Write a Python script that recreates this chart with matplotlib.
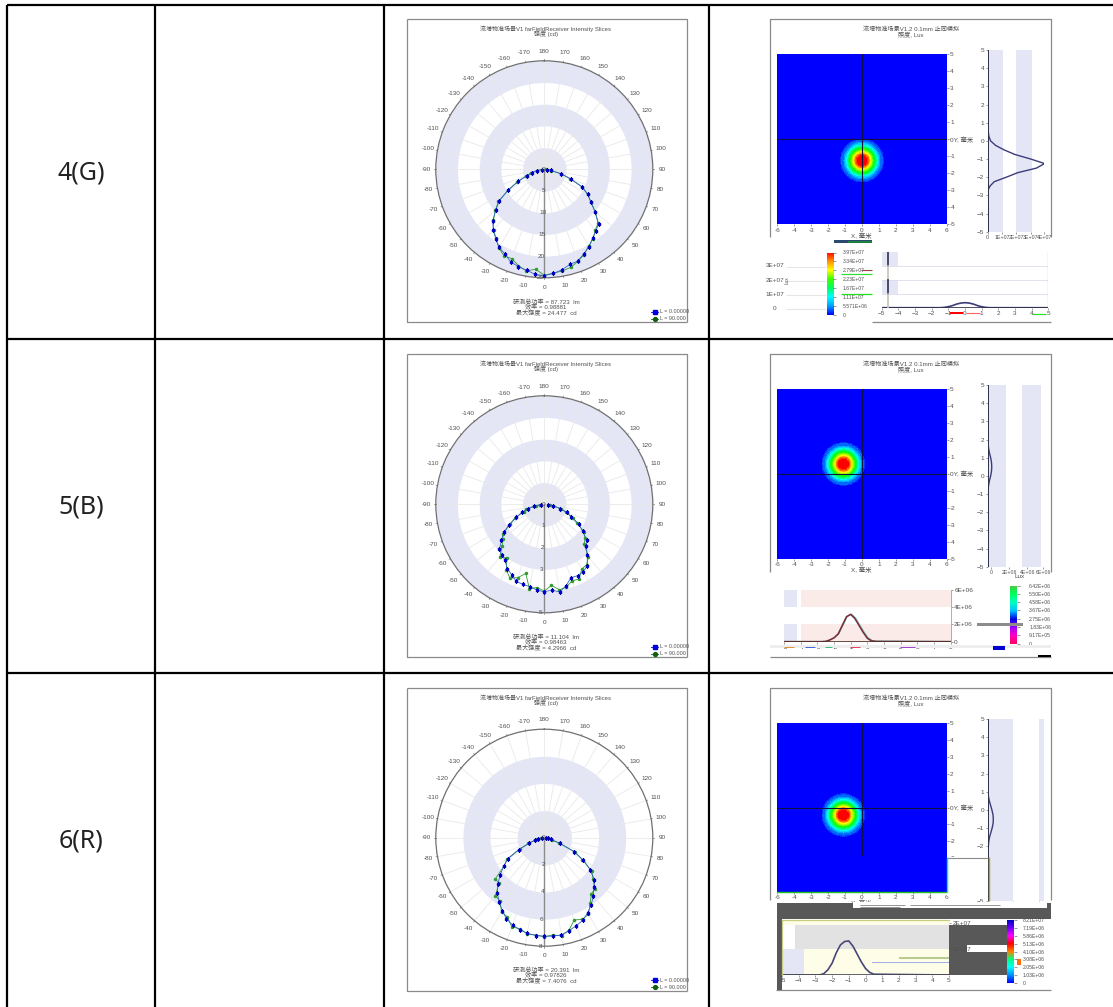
import numpy as np
import matplotlib
matplotlib.use("Agg")
import matplotlib.pyplot as plt
from matplotlib.colors import LinearSegmentedColormap, BoundaryNorm
from matplotlib.patches import Rectangle

plt.rcParams['font.family'] = ['Liberation Sans', 'Noto Sans CJK SC', 'DejaVu Sans']
W, H = 1113, 1007

row_labels = ["4(G)", "5(B)", "6(R)"]

angles = list(range(-85, 90, 5))
blue_r1 = [.6,1.7,2.9,4.2,6.6,9.7,12.7,14.6,16.8,18.3,19.5,20.8,21.5,22.7,23.2,23.6,24.3,24.5,24.1,23.5,22.7,22.5,21.5,20.6,19.4,18.5,17.7,15.2,13.2,11.5,9.5,6.5,4,1.5,.6]
green_r1 = [.6,1.8,3.1,4.4,6.9,9.6,12.9,14.7,16.6,18.2,19.4,20.9,22.0,21.9,23.0,23.8,23.1,24.4,24.0,23.8,23.4,22.6,21.7,20.4,19.6,18.3,17.5,15.4,13.0,11.6,9.7,6.3,4.1,1.6,.5]
blue_r2 = [.15,.46,.8,1.1,1.42,1.88,2.25,2.58,2.92,3.05,3.15,3.42,3.57,3.78,3.82,3.85,3.97,4.03,3.97,4.1,3.88,3.6,3.63,3.58,3.46,3.08,2.74,2.54,2.15,1.85,1.38,1.1,.77,.43,.15]
green_r2 = [.2,.4,.85,1.0,1.5,1.8,2.35,2.5,2.75,3.2,3.0,3.5,3.75,3.6,3.3,3.95,3.85,4.0,3.75,4.0,3.95,3.75,3.8,3.45,3.4,3.15,2.6,2.45,2.25,1.75,1.45,1.05,.8,.4,.25]
blue_r3 = [.2,.44,.74,1.18,2.09,3.08,3.65,4.24,4.85,5.37,5.81,6.2,6.6,6.85,7.02,7.17,7.24,7.27,7.29,7.27,7.09,6.9,6.72,6.4,6.03,5.62,5.17,4.8,4.14,3.33,2.41,1.23,.49,.3,.15]
green_r3 = [.25,.55,.7,1.25,2.0,3.2,3.6,4.7,4.75,5.6,5.7,6.3,6.45,7.0,6.95,7.2,7.2,7.3,7.2,7.35,7.05,6.45,6.65,6.5,5.9,5.4,5.3,4.7,4.25,3.25,2.5,1.15,.6,.25,.2]
ring_edges1 = [0,5,10,15,20,25]
ring_edges2 = [0,1,2,3,4,5]
ring_edges3 = [0,2,4,6,8]
r_labels1 = [5,10,15,20,25]
r_labels2 = [1,2,3,5]
r_labels3 = [2,4,6,8]
theta_ticks = list(range(-170, 190, 10))
polar_notes1 = ["研测总功率 = 87.723  lm", "效率 = 0.98881", "最大强度 = 24.477  cd"]
polar_notes2 = ["研测总功率 = 11.104  lm", "效率 = 0.98463", "最大强度 = 4.2966  cd"]
polar_notes3 = ["研测总功率 = 20.391  lm", "效率 = 0.97826", "最大强度 = 7.4076  cd"]

peak_xy1 = (0.0, -1.25)
peak_xy2 = (-1.1, 0.6)
peak_xy3 = (-1.1, -0.45)
heat_r = [0,.3,.4,.5,.72,.95,1.1,1.28,1.31,20]
heat_v = [1,.97,.87,.75,.5,.25,.15,.08,0,0]

side_y1 = [-5,-2.75,-2.5,-2.25,-2,-1.75,-1.5,-1.25,-1,-.75,-.5,-.25,0,.25,.5,.75,1,5]
side_v1 = [0,0,.15,.45,1.3,2.1,3.4,3.97,3.0,1.9,1.15,.55,.2,.08,.04,.02,.01,0]
side_y2 = [-5,-1.25,-1,-.75,-.5,-.25,0,.25,.5,.75,1,1.25,1.5,1.75,2,2.25,2.5,5]
side_v2 = [0,0,.02,.05,.1,.2,.33,.42,.45,.42,.33,.2,.1,.05,.03,.02,0,0]
side_y3 = [-2.75,-2.5,-2.25,-2,-1.75,-1.5,-1.25,-1,-.75,-.5,-.25,0,.25,.5,.75,1,1.25,5]
side_v3 = [0,.03,.08,.13,.2,.35,.6,.85,1.03,1.07,1.0,.8,.55,.3,.13,.05,.02,0]

bot_x1 = [-5,-1.5,-1.25,-1,-.75,-.5,-.25,0,.25,.5,.75,1,1.25,1.5,5]
bot_v1 = [0,0,.02,.07,.15,.26,.33,.36,.33,.26,.15,.07,.02,0,0]
bot_x2 = [-5,-2.75,-2.5,-2.25,-2,-1.75,-1.5,-1.25,-1,-.75,-.5,-.25,0,.25,.5,5]
bot_v2 = [0,0,.03,.2,.45,.9,1.9,2.9,3.17,2.7,1.9,1.1,.4,.1,.03,0]
bot_x3 = [-5,-2.75,-2.5,-2.25,-2,-1.75,-1.5,-1.25,-1,-.75,-.5,-.25,0,.25,.5,5]
bot_v3 = [0,0,.05,.2,.45,.85,1.15,1.28,1.3,1.1,.8,.5,.25,.1,.03,0]

cbar_colors1 = ["#0000ff","#00a0ff","#00ffff","#00ff60","#40ff00","#ffff00","#ff9000","#ff0000"]
cbar_colors2 = ["#ff0060","#ff00c0","#a000ff","#0000e0","#00c0ff","#00ffc0","#00ff60","#40d040"]
cbar_colors3 = ["#0000ff","#0090ff","#00ffff","#00ff80","#ff8000","#ff0000","#ff00ff","#7000ff","#0000c0"]
cbar_labels1 = ["0","5.571E+06","1.11E+07","1.67E+07","2.23E+07","2.79E+07","3.34E+07","3.97E+07"]
cbar_labels2 = ["0","9.17E+05","1.83E+06","2.75E+06","3.67E+06","4.58E+06","5.50E+06","6.42E+06"]
cbar_labels3 = ["0","1.03E+06","2.05E+06","3.08E+06","4.10E+06","5.13E+06","5.86E+06","7.19E+06","8.21E+07"]

BAND = "#e4e6f6"
TXT = "#505050"
FS = 4.6


def axpx(x0, y0, x1, y1, **kw):
    return fig.add_axes([x0/W, 1-y1/H, (x1-x0)/W, (y1-y0)/H], **kw)


fig = plt.figure(figsize=(W/100, H/100), dpi=100, facecolor="white")
base = axpx(0, 0, W, H)
base.set_xlim(0, W); base.set_ylim(H, 0); base.axis("off"); base.set_zorder(0)
over = axpx(0, 0, W, H)
over.set_xlim(0, W); over.set_ylim(H, 0); over.axis("off"); over.set_zorder(20)
over.patch.set_alpha(0)


def rect(a, x0, y0, x1, y1, c, z=1):
    a.add_patch(Rectangle((x0, y0), x1-x0, y1-y0, fc=c, ec="none", zorder=z))


def line(a, xs, ys, c="black", lw=1.0, z=2):
    a.plot(xs, ys, color=c, lw=lw, zorder=z, solid_capstyle="butt")


# table grid
for y in (5, 339, 673):
    line(base, [7, W], [y, y], lw=1.6)
for x in (7, 155, 384, 709):
    line(base, [x, x], [5, H], lw=1.6)
for lab, y in zip(row_labels, (173, 507, 841)):
    base.text(81, y, lab, fontsize=18, ha="center", va="center", color="#222222", family="Noto Sans")


def polar(top, bottom, cy, edges, rlabs, blue, green, notes):
    for xs, ys in (([406.7, 687, 687], [top, top, bottom]), ([406.7, 406.7, 687], [top, bottom, bottom])):
        line(base, xs, ys, c="#8a8a8a", lw=0.9)
    base.text(546, top+9, "流增物准场景V1 farFieldReceiver Intensity Slices", fontsize=4.3, color=TXT, ha="center", va="center")
    base.text(546, top+15, "强度 (cd)", fontsize=4.3, color=TXT, ha="center", va="center")
    R = 108.5
    ax = axpx(544.3-R, cy-R, 544.3+R, cy+R, projection="polar")
    ax.set_zorder(2)
    ax.set_theta_zero_location("S")
    ax.set_theta_direction(1)
    ax.set_thetamin(-180)
    ax.set_thetamax(180)
    rmax = edges[-1]
    ax.set_rlim(0, rmax)
    th = np.linspace(-np.pi, np.pi, 361)
    for lo, hi in zip(edges[0::2], edges[1::2]):
        ax.fill_between(th, lo, hi, color=BAND, lw=0, zorder=0)
    ax.set_yticks([])
    ax.set_thetagrids(theta_ticks, labels=[str(t) for t in theta_ticks], fontsize=FS, color=TXT)
    ax.tick_params(axis="x", pad=-3.5)
    ax.grid(True, color="#e9e9e9", lw=0.6)
    ax.spines["polar"].set_color("#707070")
    ax.spines["polar"].set_linewidth(0.9)
    for s in ("start", "end", "inner"):
        ax.spines[s].set_visible(False)
    for t in theta_ticks:
        ax.plot([np.deg2rad(t)]*2, [rmax, rmax*1.012], color="#707070", lw=0.5, clip_on=False, zorder=3)
    ax.plot([0, 0], [0, rmax], color="#8c8c8c", lw=1.0, zorder=3)
    tha = np.deg2rad(angles)
    ax.plot(tha, green, color="#2f9a30", lw=0.6, marker="o", ms=1.5, zorder=4)
    ax.plot(tha, blue, color="#2f66c8", lw=0.6, marker="s", ms=1.5, mfc="#0000c0", mec="#0000c0", zorder=5)
    ax.set_thetamin(-180)
    ax.set_thetamax(180)
    ax.set_rlim(0, rmax)
    for r in [0]+rlabs:
        ax.text(np.deg2rad(-2.2) if r else np.deg2rad(-90), r if r else 0.16*rmax/5*0.25, str(r), fontsize=FS, color=TXT, ha="center", va="center", zorder=6)
    for i, s in enumerate(notes):
        base.text(546, cy+132.5+i*5.2, s, fontsize=4.4, color=TXT, ha="center", va="center")
    for yy, c, m, s in ((bottom-10.5, "#0000e0", "s", "L = 0.00000"), (bottom-3.5, "#106010", "o", "L = 90.000")):
        base.plot([651, 658], [yy, yy], color=c, lw=0.6)
        base.plot([654.5], [yy], marker=m, ms=2.8, color=c)
        base.text(660, yy, s, fontsize=3.9, color=TXT, va="center")


polar(19.3, 322.3, 169.3, ring_edges1, r_labels1, blue_r1, green_r1, polar_notes1)
polar(354.3, 657, 504.3, ring_edges2, r_labels2, blue_r2, green_r2, polar_notes2)
polar(688.3, 990.7, 837.7, ring_edges3, r_labels3, blue_r3, green_r3, polar_notes3)

heat_cmap = LinearSegmentedColormap.from_list("h", ["#0000ff", "#00ffff", "#00ff00", "#ffff00", "#ff0000"])
grid = np.linspace(-5, 5, 401)
GX, GY = np.meshgrid(grid, grid)


def tick_style(ax):
    ax.tick_params(labelsize=FS, colors=TXT, length=1.5, width=0.4, pad=1)
    for s in ax.spines.values():
        s.set_visible(False)


def heat(top_px, bottom_px, peak, vline_end=-5):
    base.text(911, top_px-34.5+9, "流增物准场景V1.2 0.1mm 止同模拟", fontsize=4.4, color=TXT, ha="center", va="center")
    base.text(911, top_px-34.5+15, "照度, Lux", fontsize=4.4, color=TXT, ha="center", va="center")
    ax = axpx(777.3, top_px, 946.7, bottom_px)
    ax.set_zorder(2)
    field = np.interp(np.hypot(GX-peak[0], GY-peak[1]), heat_r, heat_v)
    ax.pcolormesh(grid, grid, field, cmap=heat_cmap, norm=BoundaryNorm(np.linspace(0, 1, 21), 256), rasterized=True)
    ax.axhline(0, color="#101040", lw=0.8)
    ax.plot([0, 0], [vline_end, 5], color="#101040", lw=0.8)
    ax.set_xlim(-5, 5); ax.set_ylim(-5, 5)
    ax.yaxis.tick_right()
    ax.set_xticks(range(-5, 6), [str(t) for t in (-6,-4,-3,-2,-1,0,1,2,3,4,6)])
    ax.set_yticks(range(-5, 6), [str(t) if t else "" for t in range(-5, 6)])
    tick_style(ax)
    base.text(950.5, (top_px+bottom_px)/2, "0Y, 毫米", fontsize=4.6, color=TXT, ha="left", va="center")
    base.text(861, bottom_px+11, "X, 毫米", fontsize=4.6, color=TXT, ha="center", va="center")


def side(x0, x1, y0, y1, xs, ys, unit, bands, ticks, labels, xmax, ymin=-5):
    ax = axpx(x0, y0, x1, y1)
    ax.set_zorder(3)
    for lo, hi in bands:
        ax.axvspan(lo, hi, color=BAND, lw=0)
    ax.plot(np.array(xs)*unit, ys, color="#3c3c78", lw=1.0)
    ax.axvline(0, color="#30304a", lw=1.4)
    ax.set_xlim(0, xmax); ax.set_ylim(ymin, 5)
    ax.set_yticks(range(-5, 6))
    ax.set_xticks(ticks, labels)
    tick_style(ax)
    ax.tick_params(axis="x", labelsize=3.8)
    return ax


def bottom_slice(x0, x1, y0, y1, xs, vs, ymax, ticks, labels, lc):
    ax = axpx(x0, y0, x1, y1)
    ax.set_zorder(3)
    ax.plot(xs, vs, color=lc, lw=1.2)
    ax.set_xlim(-5, 5); ax.set_ylim(0, ymax)
    ax.yaxis.tick_right()
    ax.set_yticks(ticks, labels)
    ax.set_xticks(range(-5, 6))
    tick_style(ax)
    return ax


def cbar(x0, x1, y0, y1, colors, labels, pad):
    ax = axpx(x0, y0, x1, y1)
    ax.set_zorder(3)
    cm = LinearSegmentedColormap.from_list("c", colors)
    ax.imshow(np.linspace(1, 0, 256)[:, None], cmap=cm, aspect="auto", extent=(0, 1, 0, len(labels)-1))
    ax.yaxis.tick_right()
    ax.set_xticks([])
    ax.set_yticks(range(len(labels)), labels)
    tick_style(ax)
    ax.tick_params(labelsize=3.7, pad=pad, length=2.5)
    return ax


# ---- row 1 right
line(base, [770, 770, 1051, 1051], [237, 19.3, 19.3, 237], c="#8a8a8a", lw=0.9)
line(base, [872, 1051], [322.3, 322.3], c="#8a8a8a", lw=0.9)
heat(54.3, 224.3, peak_xy1)
side(987.7, 1044.3, 50, 231.7, side_v1, side_y1, 1e7, [(0, 1.07e7), (1.98e7, 3.07e7)],
     [0, 1e7, 2e7, 3e7, 3.95e7], ["0", "1E+07", "2E+07", "3E+07", "4E+07"], 3.95e7)
ax = bottom_slice(881.7, 1048.3, 251.7, 307.7, bot_x1, bot_v1, 4e7/1e7, [], [], "#3c3c78")
ax.axhspan(2.98, 4, xmin=0, xmax=.10, color=BAND, lw=0)
ax.axhspan(1.0, 2.0, xmin=0, xmax=.10, color=BAND, lw=0)
for yy in (1, 2, 3):
    ax.axhline(yy, color="#dcdcec", lw=0.6)
ax.axhline(0, color="#30304a", lw=1.2)
for lo, hi, c in ((2.98, 4, "#30304a"), (2.0, 2.98, "#c4c2b8"), (1.0, 2.0, "#30304a"), (0, 1.0, "#c4c2b8")):
    ax.plot([-4.62, -4.62], [lo, hi], color=c, lw=1.2)
ax.axvline(5, color="#b4b4b4", lw=0.9)
cbar(826.7, 833.3, 252.5, 315, cbar_colors1, cbar_labels1, 4.5)
for y, s in zip((265.7, 280, 294.3, 308.3), ("3E+07", "2E+07", "1E+07", "0")):
    over.text(775, y, s, fontsize=FS, color=TXT, ha="center", va="center")
    line(over, [786, 826], [y+1, y+1], c="#e6e6e6", lw=0.8)
over.text(787, 280, "Lux", fontsize=3.4, color=TXT, rotation=90, ha="center", va="center")
rect(over, 834, 240, 872, 243, "#2a4a70")
rect(over, 848, 241, 872, 243, "#208040")
line(over, [841, 872], [274, 274], c="#30e030", lw=0.9)
line(over, [841, 872], [294.3, 294.3], c="#20e020", lw=0.9)
line(over, [861, 872], [270, 270], c="#a04040", lw=0.8)
rect(over, 950, 311.5, 963, 314, "#ff0000")
line(over, [966, 980], [312.5, 312.5], c="#ff6060", lw=0.8)
line(over, [1032, 1046], [314, 314], c="#30e030", lw=0.9)

# ---- row 2 right
line(base, [770, 770, 1051, 1051], [572, 354.3, 354.3, 572], c="#8a8a8a", lw=0.9)
line(base, [770, 1051], [657, 657], c="#8a8a8a", lw=0.9)
heat(389.3, 559, peak_xy2)
side(987.7, 1044.3, 385, 566.7, side_v2, side_y2, 1e6, [(0, 2e6), (3.85e6, 5.9e6)],
     [.4e6, 2.4e6, 4.4e6, 6.2e6], ["0", "2E+06", "4E+06", "6E+06"], 6.3e6)
ax = bottom_slice(784, 950.7, 590, 641.7, bot_x2, bot_v2, 6.0, [0, 2, 4, 6], ["0", "2E+06", "4E+06", "6E+06"], "#7a3038")
for lo, hi in ((4, 6), (0, 2)):
    ax.axhspan(lo, hi, xmin=0, xmax=.08, color=BAND, lw=0)
    ax.axhspan(lo, hi, xmin=.10, xmax=1, color="#fbebe8", lw=0)
ax.axhline(0, color="#50302c", lw=1.2)
ax.plot(np.array(bot_x2)+.06, np.array(bot_v2)+.05, color="#40c8c8", lw=0.5, zorder=1)
ax.spines["right"].set_visible(True); ax.spines["right"].set_color("#f09090"); ax.spines["right"].set_linewidth(0.7)
over.text(1020, 576, "Lux", fontsize=FS, color=TXT, ha="center", va="center")
cbar(1010, 1016.7, 585.5, 643.5, cbar_colors2, cbar_labels2, 6.5)
rect(over, 977, 623, 1023, 626, "#8c8c8c")
rect(over, 770, 644.5, 1051, 648, "#eeeeee", 1)
for xa, xb, c in ((784, 794, "#e09030"), (805, 815, "#4060e0"), (825, 832, "#30c080"), (850, 860, "#e04060"), (900, 915, "#a040d0")):
    line(over, [xa, xb], [647, 647], c=c, lw=0.7)
rect(over, 993, 646, 1005, 649.5, "#0000d0")
rect(over, 1038, 655, 1051, 656.5, "#000000")

# ---- row 3 right
line(base, [770, 770, 1051, 1051], [900, 688.3, 688.3, 900], c="#8a8a8a", lw=0.9)
line(base, [776, 1051], [990, 990], c="#8a8a8a", lw=0.9)
heat(723.3, 891.7, peak_xy3, vline_end=-2.85)
side(987.7, 1044.3, 719, 900.7, side_v3, side_y3, 1e6, [(0, 4.8e6), (9.8e6, 1.08e7)],
     [0, 4.8e6, 9.8e6], ["0", "5E+06", "1E+07"], 1.08e7)
# damaged region of the picture
rect(over, 947, 857, 988, 896, "#ffffff", 1)
line(over, [947, 988], [857.5, 857.5], c="#8a8a8a", lw=0.8)
line(over, [988.5, 988.5], [857, 901], c="#a8a820", lw=1.0)
line(over, [777.3, 947], [892, 892], c="#20c020", lw=1.0)
line(over, [947, 947], [857, 892], c="#00e0ff", lw=1.0)
rect(over, 777, 903, W-62, 919, "#585858", 1)
rect(over, 853, 902, 1047, 908, "#ffffff", 2)
rect(over, 777, 919, 782, 990, "#585858", 1)
rect(over, 949, 925, 1007, 975, "#585858", 1)
rect(over, 967, 945, 1007, 952, "#ffffff", 2)
for xa, xb, yy in ((860, 905, 905), (860, 900, 906.5), (910, 1000, 905)):
    line(over, [xa, xb], [yy, yy], c="#444444", lw=0.4, z=3)
ax = bottom_slice(782, 949, 920, 975, bot_x3, bot_v3, 2.1, [1, 2], ["1E+07", "2E+07"], "#484878")
ax.set_facecolor("#fdfde8")
ax.axhspan(1.0, 1.9, xmin=.08, xmax=1, color="#e2e2e2", lw=0)
ax.axhspan(1.0, 1.9, xmin=0, xmax=.08, color="#ffffff", lw=0)
ax.axhspan(0, 1.0, xmin=0, xmax=.13, color=BAND, lw=0)
ax.axhspan(.61, .69, xmin=.70, xmax=1, color="#b8cc90", lw=0)
ax.axhspan(.44, .51, xmin=.54, xmax=1, color="#a0b0e8", lw=0)
ax.axhline(0, color="#484858", lw=1.2)
for s in ("left", "top"):
    ax.spines[s].set_visible(True); ax.spines[s].set_color("#c8cc80"); ax.spines[s].set_linewidth(0.9)
ax.set_zorder(21)
ca = cbar(1007, 1014, 920, 983, cbar_colors3, cbar_labels3, 4)
ca.set_zorder(21)
rect(over, 1017, 959, 1021, 965, "#ff7000", 2)

fig.savefig("out.png", dpi=100)
